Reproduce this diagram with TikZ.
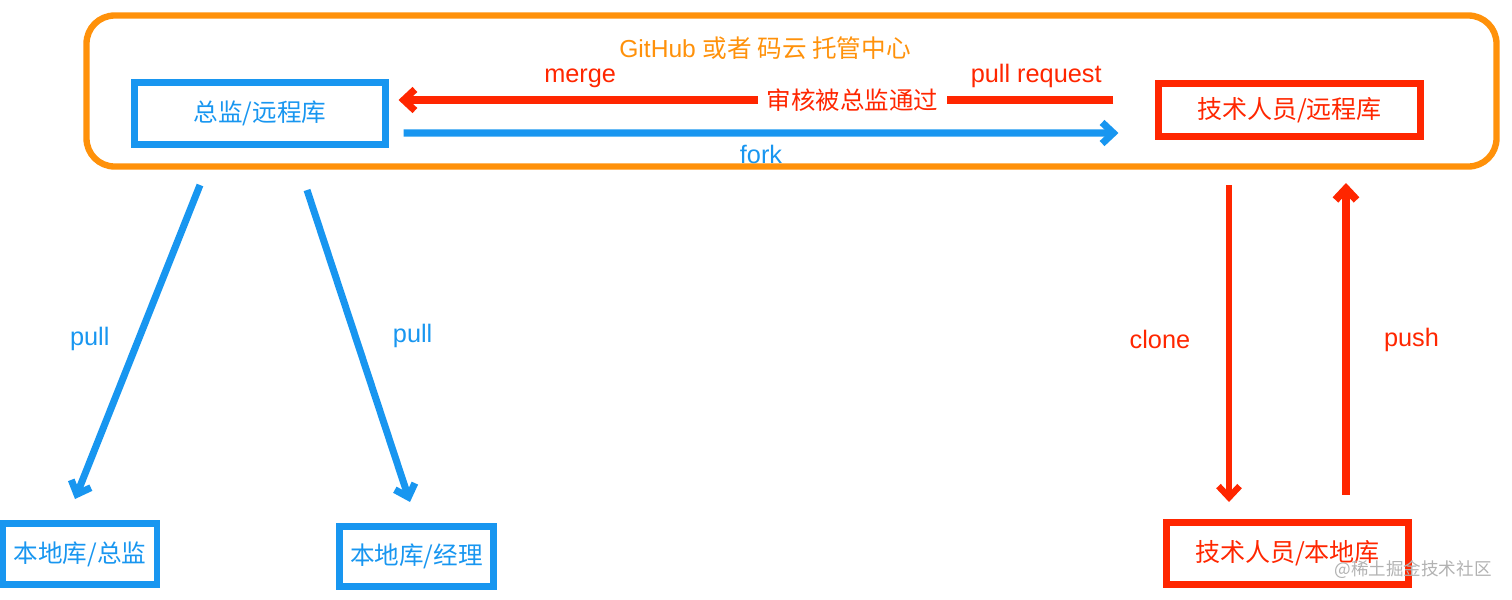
\documentclass[tikz,border=0pt]{standalone}
\usepackage{fontspec}
\setmainfont{Liberation Sans}
\newfontfamily\cjk{Noto Sans CJK SC}
\usepackage{tikz}
\usetikzlibrary{calc}
\usetikzlibrary{arrows.meta,shapes,positioning}
\tikzset{>={Straight Barb[length=8pt,width=15pt]}}
\definecolor{gitorange}{RGB}{255,145,10}
\definecolor{gitblue}{RGB}{24,150,240}
\definecolor{gitred}{RGB}{255,38,0}

\begin{document}
\begin{tikzpicture}[x=0.025cm,y=-0.025cm,
  bluebox/.style={draw=gitblue,line width=4.5pt,text=gitblue,inner sep=0pt,outer sep=0pt,font=\cjk\fontsize{17.5}{20}\selectfont},
  redbox/.style={draw=gitred,line width=4.5pt,text=gitred,inner sep=0pt,outer sep=0pt,font=\cjk\fontsize{17.8}{20}\selectfont},
  bluearrow/.style={draw=gitblue,line width=5pt,->},
  redarrow/.style={draw=gitred,line width=5pt,->},
  lbl/.style={font=\fontsize{18}{21}\selectfont}]
\useasboundingbox (0,0) rectangle (1512,599);
\draw [gitorange,line width=4.5pt,rounded corners=20pt] (86.5,15.5) rectangle (1496.5,166.5);
\node [text=gitorange,font=\fontsize{17.5}{20}\selectfont] (title) at (765,48) {GitHub {\cjk 或者 码云 托管中心}};
\node [bluebox,minimum width=6.275cm,minimum height=1.55cm] (chiefremote) at (260,113.5) {总监/远程库};
\node [redbox,minimum width=6.55cm,minimum height=1.325cm] (techremote) at (1289.5,110) {技术人员/远程库};
\node [bluebox,minimum width=3.85cm,minimum height=1.525cm] (chieflocal) at (80,554) {本地库/总监};
\node [bluebox,minimum width=3.85cm,minimum height=1.5cm] (managerlocal) at (416.5,556.5) {本地库/经理};
\node [redbox,minimum width=6.05cm,minimum height=1.55cm] (techlocal) at (1287.5,553.5) {技术人员/本地库};
\node [text=black!30,font=\cjk\fontsize{12.5}{15}\selectfont] (mark) at (1413,570) {@稀土掘金技术社区};

\draw [redarrow] ($(techremote.west)+(-45,-10)$) -- ($(chiefremote.east)+(13,-13.5)$)
  node [pos=0.365,fill=white,text=gitred,inner xsep=6pt,font=\cjk\fontsize{17.4}{20}\selectfont] {审核被总监通过}
  node [pos=0.108,above=3pt,text=gitred,lbl] {pull request}
  node [pos=0.746,above=3pt,text=gitred,lbl] {merge};
\draw [bluearrow] ($(chiefremote.east)+(18,19.5)$) -- ($(techremote.west)+(-40,23)$)
  node [midway,below=3pt,text=gitblue,lbl] {fork};
\draw [bluearrow] ($(chiefremote.south)+(-60,40.5)$) -- ($(chieflocal.north)+(-5,-24.5)$)
  node [pos=0.49,left=15pt,text=gitblue,lbl] {pull};
\draw [bluearrow] ($(chiefremote.south)+(47,45.5)$) -- ($(managerlocal.north)+(-6.5,-24.5)$)
  node [pos=0.468,right=21pt,text=gitblue,lbl] {pull};
\draw [redarrow,line width=4.5pt] ($(techremote.south)+(-60.5,48.5)$) -- ($(techlocal.north)+(-58.5,-20.5)$)
  node [pos=0.486,left=22pt,text=gitred,lbl] {clone};
\draw [redarrow,line width=5.5pt] ($(techlocal.north)+(58.5,-27.5)$) -- ($(techremote.south)+(56.5,46.5)$)
  node [pos=0.497,right=21pt,text=gitred,lbl] {push};
\end{tikzpicture}
\end{document}
